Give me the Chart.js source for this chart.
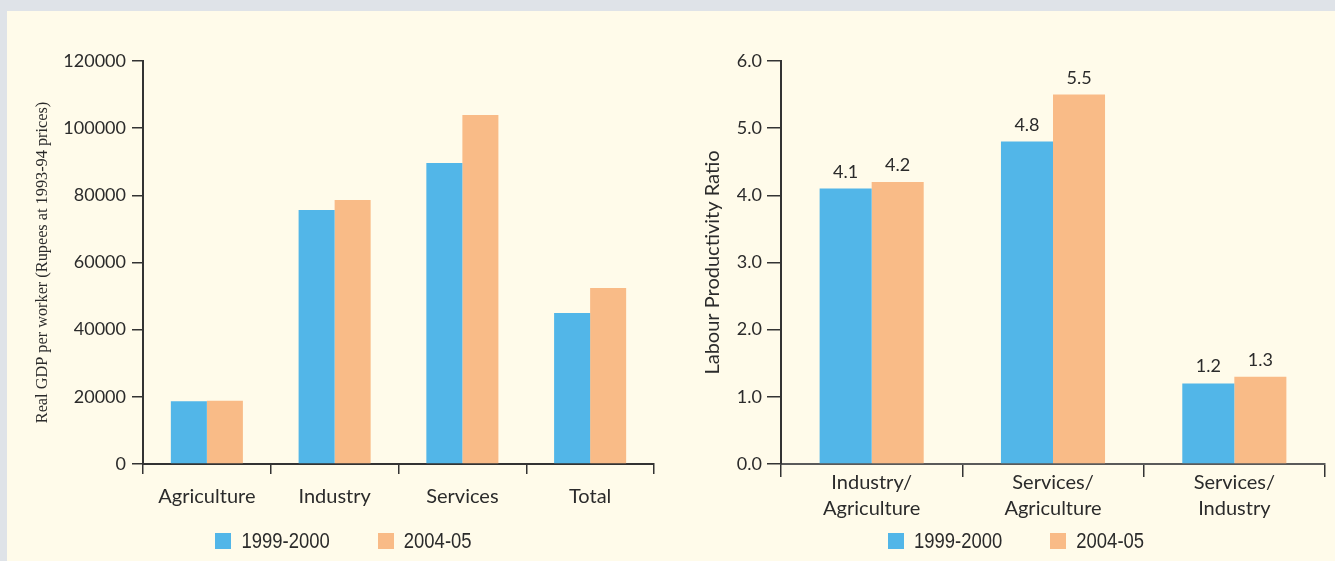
<!DOCTYPE html>
<html>
<head>
<meta charset="utf-8">
<script src="https://cdn.jsdelivr.net/npm/chart.js@4.4.1/dist/chart.umd.min.js"></script>
<style>
  html, body { margin: 0; padding: 0; width: 1335px; height: 561px; overflow: hidden; background: #dfe3e8; }
  #panel { position: absolute; left: 7px; top: 11px; width: 1328px; height: 550px; background: #fffbea; }
  canvas { position: absolute; top: 11px; }
  #gdpChart { left: 7px; }
  #ratioChart { left: 697px; }
</style>
</head>
<body>
<div id="panel"></div>
<canvas id="gdpChart" width="673" height="550"></canvas>
<canvas id="ratioChart" width="638" height="550"></canvas>
<script>
// Series shared by both panels
const seriesLabels = ['1999-2000', '2004-05'];
const seriesColors = ['#52b6e8', '#f9bb87'];

// Left panel: real GDP per worker by sector
const sectors = ['Agriculture', 'Industry', 'Services', 'Total'];
const gdp1999 = [18700, 75600, 89600, 45000];
const gdp2004 = [18800, 78600, 103900, 52400];
const gdpTickStep = 20000;
const gdpMax = 120000;

// Right panel: labour productivity ratios
const ratioPairs = [['Industry/', 'Agriculture'], ['Services/', 'Agriculture'], ['Services/', 'Industry']];
const ratio1999 = [4.1, 4.8, 1.2];
const ratio2004 = [4.2, 5.5, 1.3];
const ratioTickStep = 1;
const ratioMax = 6;

const textColor = '#2b2b2b';
const tickFont = { family: 'Lato', size: 18 };
const catFont = { family: 'Lato', size: 20, lineHeight: 1.3 };
const legendFont = '22px "Liberation Sans Narrow", "Arial Narrow", "Liberation Sans"';

// Legend drawn as coloured squares centred under each panel,
// with the label text set in a condensed width
const swatchLegend = {
  id: 'swatchLegend',
  afterDraw(chart, args, opts) {
    const ctx = chart.ctx;
    ctx.save();
    ctx.font = opts.font;
    const box = 16, gap = 10, spacing = 48;
    const squeeze = opts.squeeze;
    const items = chart.data.datasets.map(d => ({
      text: d.label, color: d.backgroundColor, w: ctx.measureText(d.label).width * squeeze
    }));
    const total = items.reduce((s, it) => s + box + gap + it.w, 0) + spacing * (items.length - 1);
    let x = chart.width / 2 - total / 2;
    const y = opts.y;
    ctx.textAlign = 'left';
    ctx.textBaseline = 'middle';
    items.forEach(it => {
      ctx.fillStyle = it.color;
      ctx.fillRect(Math.round(x), y - box / 2, box, box);
      ctx.fillStyle = textColor;
      ctx.save();
      ctx.translate(x + box + gap, y + 1);
      ctx.scale(squeeze, 1);
      ctx.fillText(it.text, 0, 0);
      ctx.restore();
      x += box + gap + it.w + spacing;
    });
    ctx.restore();
  }
};

// Values printed above each bar
const valueLabels = {
  id: 'valueLabels',
  afterDatasetsDraw(chart, args, opts) {
    const ctx = chart.ctx;
    ctx.save();
    ctx.font = opts.font;
    ctx.fillStyle = textColor;
    ctx.textAlign = 'center';
    ctx.textBaseline = 'alphabetic';
    chart.data.datasets.forEach((ds, i) => {
      chart.getDatasetMeta(i).data.forEach((bar, j) => {
        ctx.fillText(ds.data[j].toFixed(1), bar.x, bar.y - opts.offset);
      });
    });
    ctx.restore();
  }
};

function makeDatasets(a, b) {
  return [a, b].map((vals, i) => ({
    label: seriesLabels[i],
    data: vals,
    backgroundColor: seriesColors[i],
    borderWidth: 0
  }));
}

new Chart(document.getElementById('gdpChart'), {
  type: 'bar',
  data: { labels: sectors, datasets: makeDatasets(gdp1999, gdp2004) },
  plugins: [swatchLegend],
  options: {
    responsive: false,
    animation: false,
    devicePixelRatio: 1,
    layout: { padding: { top: 50, right: 26, left: 0, bottom: 0 } },
    datasets: { bar: { categoryPercentage: 0.564, barPercentage: 1 } },
    plugins: {
      legend: { display: false },
      tooltip: { enabled: false },
      swatchLegend: { font: legendFont, y: 530, squeeze: 0.84 }
    },
    scales: {
      x: {
        afterFit(scale) { scale.height = 97; },
        border: { color: '#333', width: 2 },
        grid: { offset: true, drawOnChartArea: false, tickLength: 10, color: '#333', lineWidth: 1.5 },
        ticks: { font: { family: 'Lato', size: 20, lineHeight: 1.2 }, color: textColor, padding: 11 }
      },
      y: {
        min: 0, max: gdpMax,
        afterFit(scale) { scale.width = 136; },
        border: { color: '#333', width: 2 },
        grid: { drawOnChartArea: false, tickLength: 11, color: '#333', lineWidth: 1.5 },
        ticks: { stepSize: gdpTickStep, font: tickFont, color: textColor, padding: 6,
                 callback: v => String(v) },
        title: {
          display: true,
          text: 'Real GDP per worker (Rupees at 1993-94 prices)',
          font: { family: 'Liberation Serif', size: 16.3 },
          color: textColor,
          padding: { top: 26, bottom: 0 }
        }
      }
    }
  }
});

new Chart(document.getElementById('ratioChart'), {
  type: 'bar',
  data: { labels: ratioPairs, datasets: makeDatasets(ratio1999, ratio2004) },
  plugins: [swatchLegend, valueLabels],
  options: {
    responsive: false,
    animation: false,
    devicePixelRatio: 1,
    layout: { padding: { top: 50, right: 10, left: 0, bottom: 0 } },
    datasets: { bar: { categoryPercentage: 0.574, barPercentage: 1 } },
    plugins: {
      legend: { display: false },
      tooltip: { enabled: false },
      swatchLegend: { font: legendFont, y: 530, squeeze: 0.84 },
      valueLabels: { font: '18px Lato', offset: 11 }
    },
    scales: {
      x: {
        afterFit(scale) { scale.height = 97; },
        border: { color: '#5a5a5a', width: 2 },
        grid: { offset: true, drawOnChartArea: false, tickLength: 13, color: '#333', lineWidth: 1.5 },
        ticks: { font: catFont, color: textColor, padding: -7 }
      },
      y: {
        min: 0, max: ratioMax,
        afterFit(scale) { scale.width = 84; },
        border: { color: '#333', width: 2 },
        grid: { drawOnChartArea: false, tickLength: 14, color: '#333', lineWidth: 1.5 },
        ticks: { stepSize: ratioTickStep, font: tickFont, color: textColor, padding: 5,
                 callback: v => v.toFixed(1) },
        title: {
          display: true,
          text: 'Labour Productivity Ratio',
          font: { family: 'Lato', size: 20 },
          color: textColor,
          padding: { top: 4, bottom: 0 }
        }
      }
    }
  }
});
</script>
</body>
</html>
